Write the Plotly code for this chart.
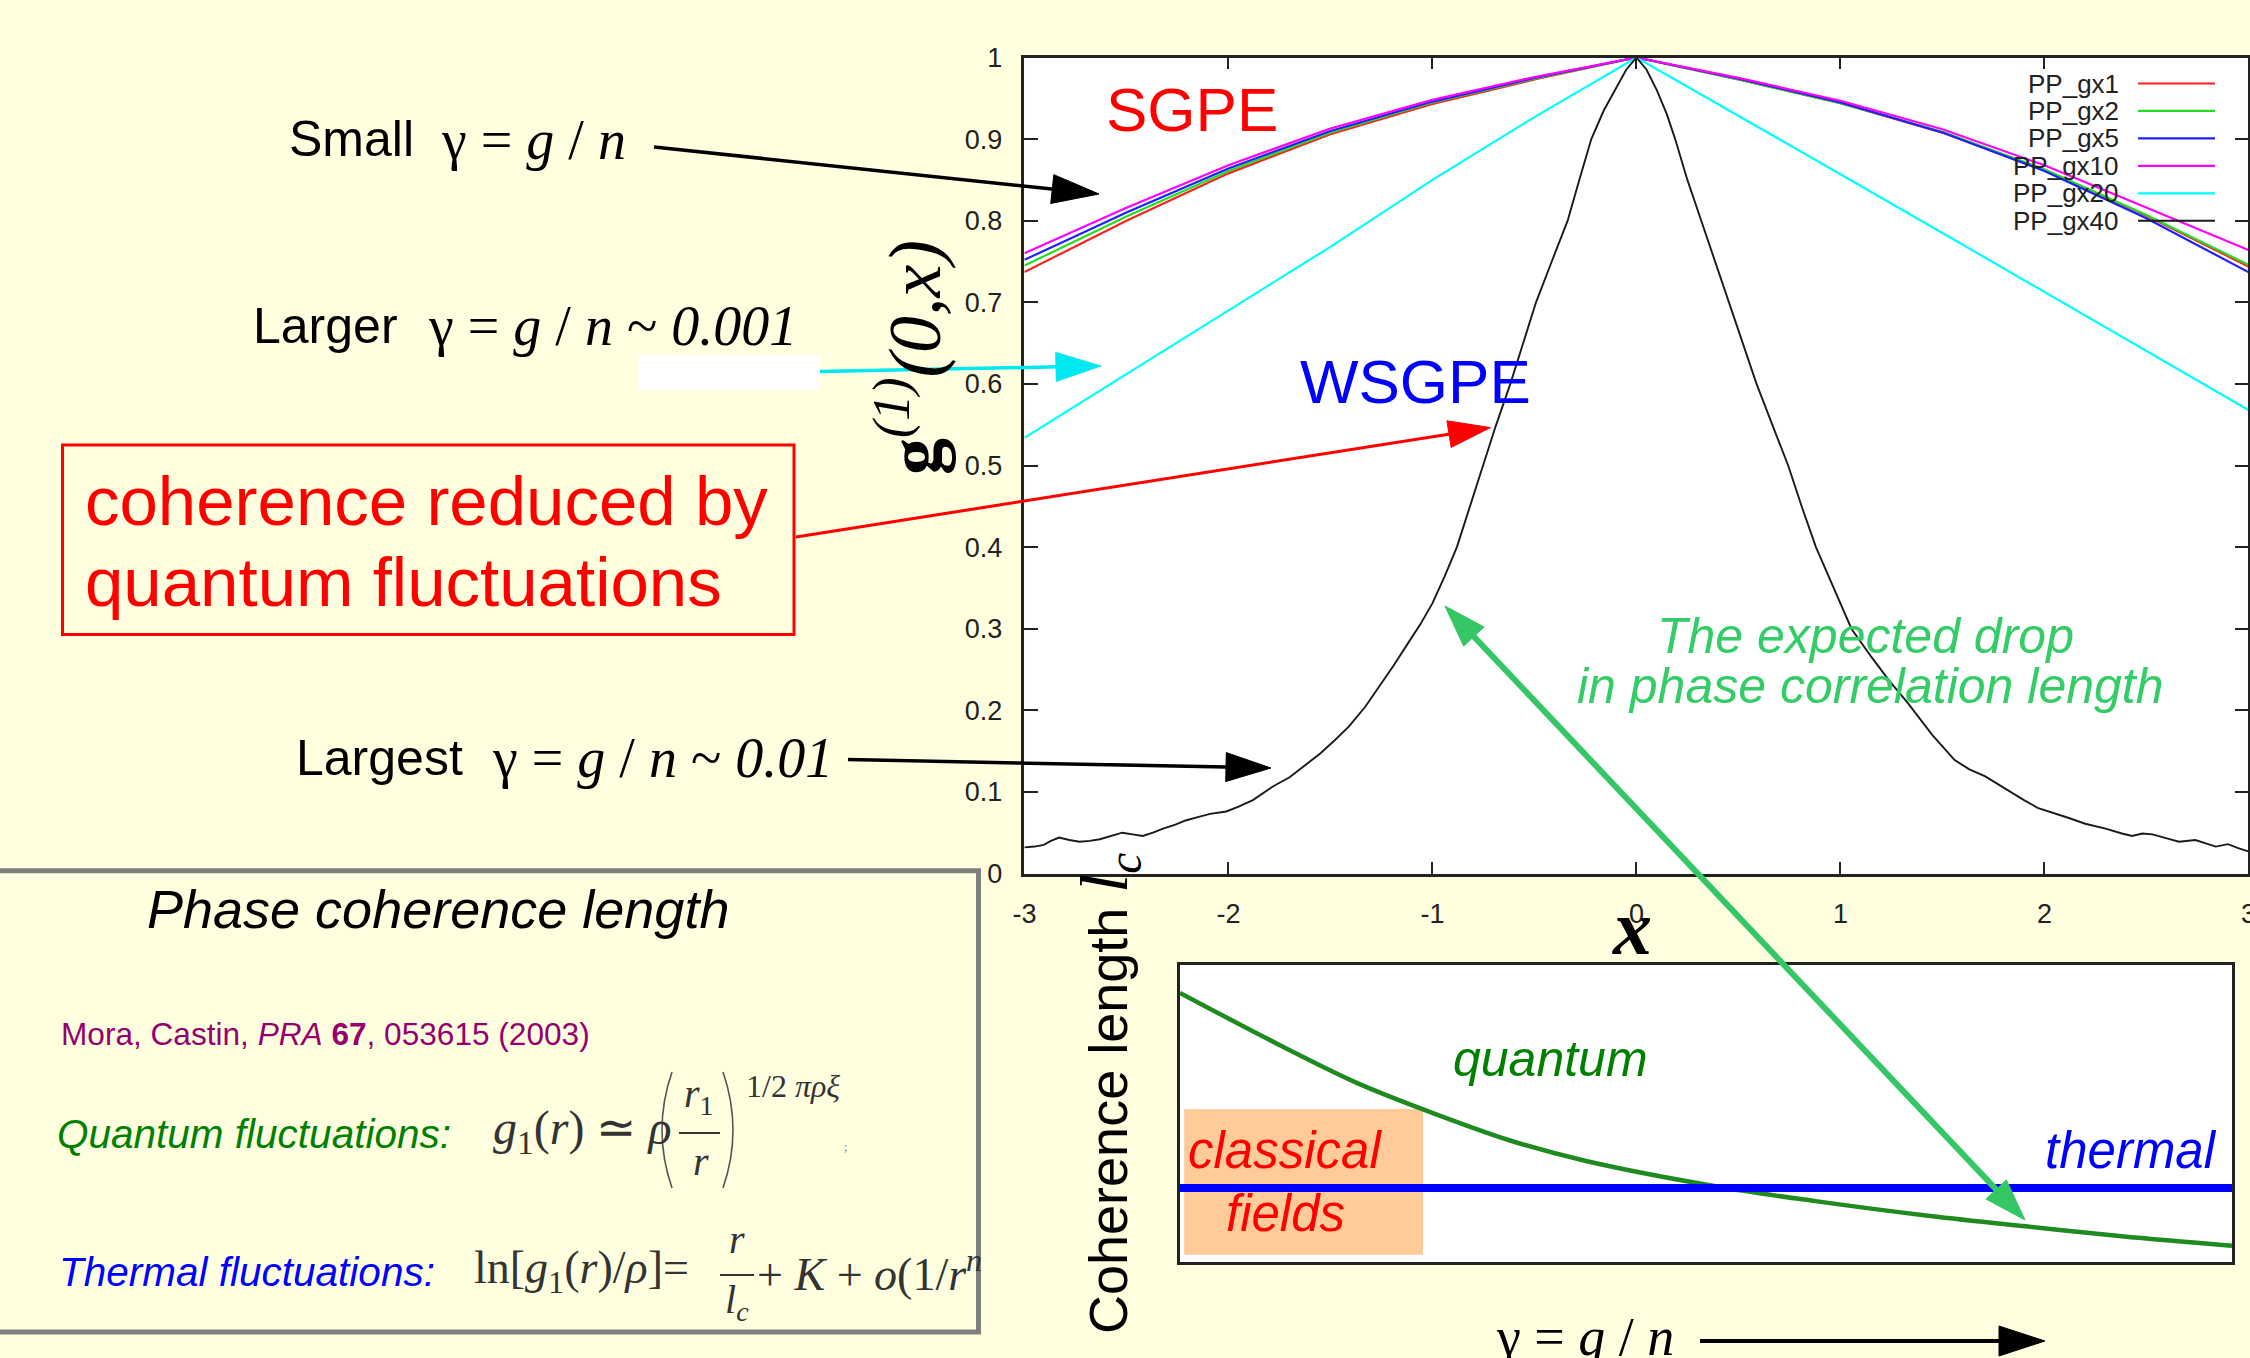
import math
import plotly.graph_objects as go

W, H = 2250, 1358
SANS = "Liberation Sans, Arial, sans-serif"
SERIF = "Liberation Serif, Times New Roman, serif"
BG = "#FFFFE0"

# ---------------- data ----------------
X_UP = [-3, -2.5, -2, -1.5, -1, -0.5, 0, 0.5, 1, 1.5, 2, 2.5, 3]
GX1 = [0.737, 0.800, 0.858, 0.906, 0.943, 0.973, 1.0, 0.973, 0.944, 0.908, 0.862, 0.806, 0.744]
GX2 = [0.745, 0.805, 0.861, 0.908, 0.945, 0.974, 1.0, 0.973, 0.944, 0.909, 0.863, 0.807, 0.746]
GX5 = [0.752, 0.810, 0.864, 0.910, 0.946, 0.975, 1.0, 0.974, 0.945, 0.908, 0.861, 0.803, 0.737]
GX10 = [0.760, 0.816, 0.868, 0.913, 0.948, 0.976, 1.0, 0.975, 0.947, 0.912, 0.868, 0.816, 0.764]
GX20 = [0.534, 0.612, 0.690, 0.768, 0.850, 0.927, 1.0, 0.929, 0.857, 0.785, 0.713, 0.640, 0.568]

X_GX40 = [-3.00, -2.95, -2.905, -2.87, -2.83, -2.78, -2.73, -2.68, -2.63, -2.57, -2.52, -2.47,
          -2.42, -2.37, -2.32, -2.26, -2.21, -2.15, -2.09, -2.01, -1.95, -1.88, -1.83, -1.78,
          -1.70, -1.63, -1.55, -1.48, -1.41, -1.33, -1.26, -1.19, -1.12, -1.06, -1.00, -0.94,
          -0.88, -0.82, -0.754, -0.69, -0.618, -0.555, -0.492, -0.415, -0.337, -0.28, -0.221,
          -0.16, -0.10, -0.05, 0.00,
          0.05, 0.10, 0.15, 0.19, 0.25, 0.318, 0.385, 0.453, 0.52, 0.589, 0.666, 0.744, 0.81,
          0.88, 0.967, 1.054, 1.15, 1.24, 1.33, 1.45, 1.56, 1.63, 1.71, 1.80, 1.90, 1.97, 2.05,
          2.12, 2.20, 2.30, 2.38, 2.43, 2.48, 2.53, 2.60, 2.66, 2.74, 2.79, 2.84, 2.90, 2.95, 3.00]
GX40 = [0.032, 0.033, 0.035, 0.040, 0.044, 0.041, 0.039, 0.040, 0.042, 0.046, 0.050, 0.048,
        0.046, 0.050, 0.055, 0.060, 0.065, 0.069, 0.073, 0.076, 0.082, 0.090, 0.098, 0.107,
        0.118, 0.131, 0.147, 0.163, 0.180, 0.204, 0.229, 0.255, 0.282, 0.305, 0.331, 0.364,
        0.400, 0.447, 0.500, 0.548, 0.600, 0.650, 0.700, 0.750, 0.800, 0.850, 0.900,
        0.935, 0.963, 0.985, 1.000,
        0.985, 0.960, 0.930, 0.900, 0.850, 0.800, 0.750, 0.700, 0.650, 0.600, 0.550, 0.500, 0.450,
        0.400, 0.350, 0.300, 0.266, 0.236, 0.209, 0.170, 0.139, 0.128, 0.119, 0.105, 0.090, 0.080, 0.074,
        0.068, 0.061, 0.055, 0.049, 0.046, 0.049, 0.048, 0.043, 0.039, 0.041, 0.037, 0.033, 0.036, 0.031, 0.027]

SERIES = [("PP_gx1", GX1, "#ff2020"), ("PP_gx2", GX2, "#22dd22"), ("PP_gx5", GX5, "#2020ff"),
          ("PP_gx10", GX10, "#ff00ff"), ("PP_gx20", GX20, "#00ffff")]
GX40_COLOR = "#1a1a1a"

X_TICKS = [-3, -2, -1, 0, 1, 2, 3]
X_TICK_TEXT = ["-3", "-2", "-1", "0", "1", "2", "3"]
Y_TICKS = [0, 0.1, 0.2, 0.3, 0.4, 0.5, 0.6, 0.7, 0.8, 0.9, 1]
Y_TICK_TEXT = ["0", "0.1", "0.2", "0.3", "0.4", "0.5", "0.6", "0.7", "0.8", "0.9", "1"]

# inset sketch (coherence length vs gamma), normalised units
INSET_X = [0, 0.095, 0.167, 0.231, 0.313, 0.386, 0.509, 0.604, 0.713, 0.804, 0.895, 1.0]
INSET_QUANTUM = [0.906, 0.73, 0.605, 0.514, 0.41, 0.34, 0.255, 0.205, 0.155, 0.12, 0.087, 0.055]
THERMAL_X = [0, 1]
THERMAL_Y = [0.249, 0.249]


# ---------------- helpers ----------------
def PX(x):
    return x / W


def PY(y):
    return 1 - y / H


annotations = []
shapes = []


def text(x, y, s, size, color="black", family=SANS, xanchor="left", angle=0, yanchor="middle"):
    annotations.append(dict(x=PX(x), y=PY(y), xref="paper", yref="paper", text=s, showarrow=False,
                            font=dict(family=family, size=size, color=color), xanchor=xanchor,
                            yanchor=yanchor, textangle=angle, borderpad=0))


def line(p0, p1, color, width):
    shapes.append(dict(type="line", xref="paper", yref="paper", x0=PX(p0[0]), y0=PY(p0[1]),
                       x1=PX(p1[0]), y1=PY(p1[1]), line=dict(color=color, width=width)))


def head(tip, frm, L, Wd, color):
    dx, dy = tip[0] - frm[0], tip[1] - frm[1]
    d = math.hypot(dx, dy)
    ux, uy = dx / d, dy / d
    bx, by = tip[0] - L * ux, tip[1] - L * uy
    nx, ny = -uy, ux
    c1 = (bx + Wd / 2 * nx, by + Wd / 2 * ny)
    c2 = (bx - Wd / 2 * nx, by - Wd / 2 * ny)
    path = "M {},{} L {},{} L {},{} Z".format(PX(tip[0]), PY(tip[1]), PX(c1[0]), PY(c1[1]),
                                              PX(c2[0]), PY(c2[1]))
    shapes.append(dict(type="path", xref="paper", yref="paper", path=path, fillcolor=color,
                       line=dict(color=color, width=1)))
    return (tip[0] - 0.7 * L * ux, tip[1] - 0.7 * L * uy)


def arrow(tail, tip, color, lw, L, Wd, both=False):
    end = head(tip, tail, L, Wd, color)
    start = head(tail, tip, L, Wd, color) if both else tail
    line(start, end, color, lw)


def rect(x0, y0, x1, y1, lcolor=None, lw=0, fill=None):
    shapes.append(dict(type="rect", xref="paper", yref="paper", x0=PX(x0), y0=PY(y0), x1=PX(x1),
                       y1=PY(y1), line=dict(color=lcolor or "rgba(0,0,0,0)", width=lw),
                       fillcolor=fill or "rgba(0,0,0,0)", layer="above"))


# ---------------- traces ----------------
fig = go.Figure()
for name, ys, col in SERIES:
    fig.add_trace(go.Scatter(x=X_UP, y=ys, mode="lines", name=name,
                             line=dict(color=col, width=2.2), xaxis="x", yaxis="y"))
fig.add_trace(go.Scatter(x=X_GX40, y=GX40, mode="lines", name="PP_gx40",
                         line=dict(color=GX40_COLOR, width=1.9), xaxis="x", yaxis="y"))

fig.add_trace(go.Scatter(x=INSET_X, y=INSET_QUANTUM, mode="lines", line_shape="spline",
                         line=dict(color="#1f8a1f", width=4.5), xaxis="x2", yaxis="y2"))
fig.add_trace(go.Scatter(x=THERMAL_X, y=THERMAL_Y, mode="lines",
                         line=dict(color="#0000ff", width=8), xaxis="x2", yaxis="y2"))

# orange "classical fields" area in the inset
shapes.append(dict(type="rect", xref="x2", yref="y2", x0=0.004, x1=0.231, y0=0.024, y1=0.515,
                   fillcolor="#FFCC99", line=dict(width=0), layer="below"))

# ---------------- legend (gnuplot style) ----------------
LEG_NAMES = [s[0] for s in SERIES] + ["PP_gx40"]
LEG_COLORS = [s[2] for s in SERIES] + [GX40_COLOR]
for i, (nm, col) in enumerate(zip(LEG_NAMES, LEG_COLORS)):
    yy = 83.5 + i * 27.45
    text(2120, yy, nm, 26, "#222", xanchor="right")
    line((2138, yy), (2215, yy), col, 2.2)

# ---------------- main chart labels ----------------
text(1105, 109.5, "SGPE", 62, "#ff0000")
text(1299, 381, "WSGPE", 62, "#0000ff")
text(1865, 636, "<i>The expected drop</i>", 50, "#33cc66", xanchor="center")
text(1870, 686, "<i>in phase correlation length</i>", 50, "#33cc66", xanchor="center")
text(910, 358, "<b>g</b><sup><i>(1)</i></sup><i>(0,x)</i>", 74, "black", family=SERIF,
     xanchor="center", angle=-90)
text(1632, 927, "<b><i>x</i></b>", 78, "black", family=SERIF, xanchor="center")

# left annotations
text(288, 139, "Small", 50)
text(440, 140, "γ = <i>g</i> / <i>n</i>", 56, family=SERIF)
text(252, 325.5, "Larger", 50)
text(427, 326, "γ = <i>g</i> / <i>n</i> ~ <i>0.001</i>", 56, family=SERIF)
text(295, 758, "Largest", 50)
text(491, 758, "γ = <i>g</i> / <i>n</i> ~ <i>0.01</i>", 56, family=SERIF)

rect(638, 355.5, 820, 390, fill="white")
arrow((654, 147), (1099, 194), "black", 3.5, 47, 29)
arrow((820, 371.5), (1101, 366), "#00e8f0", 3.5, 45, 29)
arrow((796, 537), (1490.5, 427.6), "#ff0000", 3, 42, 27)
arrow((848, 759.5), (1271, 768), "black", 3.5, 45, 29)

rect(62.5, 445, 794, 634.6, lcolor="#ff0000", lw=3)
text(84, 501.5, "coherence reduced by", 69, "#ff0000")
text(84, 582, "quantum fluctuations", 69, "#ff0000")

# ---------------- phase coherence box ----------------
rect(-10, 870.7, 978.5, 1332, lcolor="#7f7f7f", lw=5)
text(438, 909.5, "<i>Phase coherence length</i>", 54, "black", xanchor="center")
text(60, 1034, "Mora, Castin, <i>PRA</i> <b>67</b>, 053615 (2003)", 31.6, "#96006e")
text(56, 1134, "<i>Quantum fluctuations:</i>", 40.5, "#008000")
text(58, 1272, "<i>Thermal fluctuations:</i>", 40.5, "#0000ff")

FCOL = "#333333"
text(492, 1131, "<i>g</i><sub>1</sub>(<i>r</i>) ≃ <i>ρ</i>", 48, FCOL, family=SERIF)
shapes.append(dict(type="path", xref="paper", yref="paper",
                   path="M {},{} Q {},{} {},{}".format(PX(672), PY(1072), PX(652), PY(1130), PX(672), PY(1188)),
                   line=dict(color="#555", width=1.6)))
shapes.append(dict(type="path", xref="paper", yref="paper",
                   path="M {},{} Q {},{} {},{}".format(PX(723), PY(1072), PX(743), PY(1130), PX(723), PY(1188)),
                   line=dict(color="#555", width=1.6)))
text(699, 1096, "<i>r</i><sub>1</sub>", 40, FCOL, family=SERIF, xanchor="center")
line((679, 1133), (720, 1133), FCOL, 2)
text(701, 1161, "<i>r</i>", 40, FCOL, family=SERIF, xanchor="center")
text(745, 1086, "1/2 <i>πρξ</i>", 32, FCOL, family=SERIF)
text(845, 1147, ";", 12, "#777", family=SERIF, xanchor="center")

text(473, 1271, "ln[<i>g</i><sub>1</sub>(<i>r</i>)/<i>ρ</i>]=", 46, FCOL, family=SERIF)
text(737, 1239, "<i>r</i>", 40, FCOL, family=SERIF, xanchor="center")
line((720, 1275), (754, 1275), FCOL, 2)
text(737, 1302, "<i>l</i><sub><i>c</i></sub>", 40, FCOL, family=SERIF, xanchor="center")
text(756, 1271, "+ <i>K</i> + <i>o</i>(1/<i>r</i><sup><i>n</i></sup>", 46, FCOL, family=SERIF)

# ---------------- inset labels ----------------
text(1550, 1059, "<i>quantum</i>", 50, "#008000", xanchor="center")
text(2131, 1150, "<i>thermal</i>", 51, "#0000ff", xanchor="center")
text(1285, 1150, "<i>classical</i>", 51, "#ff0000", xanchor="center")
text(1285, 1213, "<i>fields</i>", 51, "#ff0000", xanchor="center")
text(1108, 1094,
     "Coherence length <span style='font-family:Liberation Serif;font-size:68px'><i>l<sub>c</sub></i></span>",
     54, "black", xanchor="center", angle=-90)
text(1585, 1337, "γ = <i>g</i> / <i>n</i>", 54, "black", family=SERIF, xanchor="center")
arrow((1700, 1341), (2045, 1341), "black", 4, 46, 30)

# green double arrow (drawn last, above everything)
arrow((1445, 606), (2025, 1220), "#35c665", 6, 42, 28, both=True)

# ---------------- layout ----------------
axis_common = dict(showgrid=False, zeroline=False, showline=True, mirror="ticks", linecolor="#222",
                   linewidth=2.5, ticks="inside", tickwidth=2, tickcolor="#222", automargin=False,
                   ticklabeloverflow="allow",
                   tickfont=dict(family=SANS, size=27, color="#222"))
fig.update_layout(
    width=W, height=H, autosize=False,
    margin=dict(l=0, r=0, t=0, b=0, pad=0, autoexpand=False),
    paper_bgcolor=BG, plot_bgcolor="white", showlegend=False,
    xaxis=dict(domain=[1024.4 / W, 2248.4 / W], range=[-3, 3], tickvals=X_TICKS, ticktext=X_TICK_TEXT,
               ticklen=12, ticklabelstandoff=14, anchor="y", **axis_common),
    yaxis=dict(domain=[1 - 873.5 / H, 1 - 57.5 / H], range=[0, 1], tickvals=Y_TICKS, ticktext=Y_TICK_TEXT,
               ticklen=14, ticklabelstandoff=14, anchor="x", **axis_common),
    xaxis2=dict(domain=[1180 / W, 2232 / W], range=[0, 1], showgrid=False, zeroline=False,
                showticklabels=False, ticks="", showline=True, mirror=True, linecolor="#222",
                linewidth=3, anchor="y2", automargin=False),
    yaxis2=dict(domain=[1 - 1262 / H, 1 - 965 / H], range=[0, 1], showgrid=False, zeroline=False,
                showticklabels=False, ticks="", showline=True, mirror=True, linecolor="#222",
                linewidth=3, anchor="x2", automargin=False),
    annotations=annotations, shapes=shapes,
)

fig.write_html("out.html")
